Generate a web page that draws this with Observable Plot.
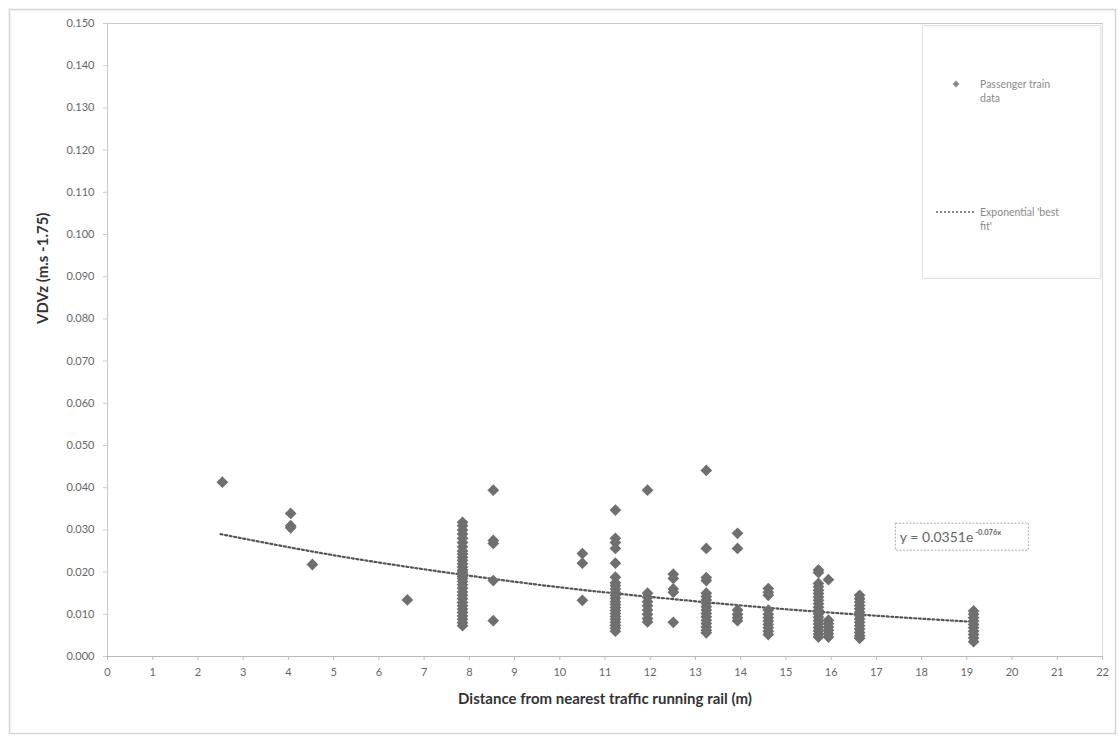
<!DOCTYPE html>
<html>
<head>
<meta charset="utf-8">
<script src="https://cdn.jsdelivr.net/npm/d3@7"></script>
<script src="https://cdn.jsdelivr.net/npm/@observablehq/plot@0.6"></script>
<style>
  html, body { margin: 0; padding: 0; background: #fff; }
  #chart { width: 1119px; height: 738px; }
</style>
</head>
<body>
<div id="chart"></div>
<script>
// ---- Data ----
const distances = [2.54, 4.05, 4.53, 6.63, 7.85, 8.53, 10.5, 11.23, 11.94, 12.51, 13.24, 13.93, 14.61, 15.72, 15.94, 16.63, 19.15];

const vdvAt2_5  = [0.0413];
const vdvAt4_0  = [0.0339, 0.0310, 0.0305];
const vdvAt4_5  = [0.0218];
const vdvAt6_6  = [0.0134];
const vdvAt7_8  = [0.0318, 0.0310, 0.0300, 0.0290, 0.0280, 0.0270, 0.0260, 0.0250, 0.0243, 0.0235, 0.0228, 0.0220, 0.0212, 0.0205, 0.0200, 0.0195, 0.0190, 0.0185, 0.0178, 0.0170, 0.0162, 0.0153, 0.0145, 0.0137, 0.0128, 0.0120, 0.0112, 0.0104, 0.0096, 0.0088, 0.0080, 0.0073];
const vdvAt8_5  = [0.0394, 0.0275, 0.0268, 0.0180, 0.0085];
const vdvAt10_5 = [0.0244, 0.0221, 0.0133];
const vdvAt11_2 = [0.0347, 0.0280, 0.0270, 0.0256, 0.0221, 0.0188, 0.0175, 0.0168, 0.0160, 0.0152, 0.0145, 0.0138, 0.0130, 0.0123, 0.0116, 0.0109, 0.0102, 0.0095, 0.0088, 0.0081, 0.0074, 0.0067, 0.0060];
const vdvAt11_9 = [0.0394, 0.0150, 0.0140, 0.0130, 0.0120, 0.0110, 0.0100, 0.0090, 0.0082];
const vdvAt12_5 = [0.0195, 0.0185, 0.0160, 0.0152, 0.0081];
const vdvAt13_2 = [0.0441, 0.0256, 0.0187, 0.0180, 0.0150, 0.0142, 0.0134, 0.0126, 0.0118, 0.0110, 0.0102, 0.0094, 0.0086, 0.0078, 0.0070, 0.0062, 0.0056];
const vdvAt13_9 = [0.0292, 0.0256, 0.0110, 0.0100, 0.0092, 0.0085];
const vdvAt14_6 = [0.0161, 0.0152, 0.0145, 0.0110, 0.0100, 0.0092, 0.0084, 0.0076, 0.0068, 0.0060, 0.0052];
const vdvAt15_7 = [0.0205, 0.0199, 0.0173, 0.0165, 0.0157, 0.0149, 0.0141, 0.0133, 0.0125, 0.0117, 0.0109, 0.0101, 0.0093, 0.0085, 0.0077, 0.0069, 0.0061, 0.0053, 0.0046];
const vdvAt15_9 = [0.0182, 0.0086, 0.0078, 0.0070, 0.0062, 0.0054, 0.0046];
const vdvAt16_6 = [0.0145, 0.0137, 0.0129, 0.0121, 0.0113, 0.0105, 0.0097, 0.0089, 0.0081, 0.0073, 0.0065, 0.0057, 0.0049, 0.0043];
const vdvAt19_1 = [0.0108, 0.0100, 0.0092, 0.0084, 0.0076, 0.0068, 0.0060, 0.0052, 0.0044, 0.0035];

const vdvByDistance = [vdvAt2_5, vdvAt4_0, vdvAt4_5, vdvAt6_6, vdvAt7_8, vdvAt8_5, vdvAt10_5, vdvAt11_2, vdvAt11_9, vdvAt12_5, vdvAt13_2, vdvAt13_9, vdvAt14_6, vdvAt15_7, vdvAt15_9, vdvAt16_6, vdvAt19_1];

// Exponential 'best fit' line
const trendX = [2.5, 5.0, 7.5, 10.0, 12.5, 15.0, 17.5, 19.15];
const trendY = [0.0290, 0.0240, 0.0199, 0.0164, 0.0136, 0.0112, 0.0093, 0.0082];

const xTicks = d3.range(0, 23, 1);
const yTicks = [0, 0.01, 0.02, 0.03, 0.04, 0.05, 0.06, 0.07, 0.08, 0.09, 0.10, 0.11, 0.12, 0.13, 0.14, 0.15];

const xTitle = "Distance from nearest traffic running rail (m)";
const yTitle = "VDVz (m.s -1.75)";
const legendLabels = [["Passenger train", "data"], ["Exponential 'best", "fit'"]];
const equationMain = "y = 0.0351e";
const equationExp = "-0.076x";

// ---- Build tables ----
const points = [];
distances.forEach((d, i) => vdvByDistance[i].forEach(v => points.push({distance: d, vdv: v})));
const trend = trendX.map((x, i) => ({distance: x, vdv: trendY[i]}));

const markColor = "#6f6f6f";
const font = "Lato, 'Open Sans', sans-serif";

// custom decorations: outer border, legend, equation box
function decorations(index, scales, values, dims) {
  const g = d3.create("svg:g").attr("text-anchor", "start");
  // outer chart border
  g.append("rect").attr("x", 9.5).attr("y", 9.5).attr("width", 1106).attr("height", 724)
    .attr("fill", "none").attr("stroke", "#d4d4d4").attr("stroke-width", 1.5);
  // legend
  const lg = g.append("g");
  lg.append("rect").attr("x", 922.5).attr("y", 25.5).attr("width", 178).attr("height", 253)
    .attr("fill", "#fff").attr("stroke", "#e0e0e0");
  lg.append("path").attr("d", d3.symbol(d3.symbolDiamond2, 30)()).attr("transform", "translate(956,84)")
    .attr("fill", "#8a8a8a");
  lg.append("line").attr("x1", 936).attr("x2", 975).attr("y1", 212).attr("y2", 212)
    .attr("stroke", "#888").attr("stroke-width", 2).attr("stroke-dasharray", "2,2");
  const ly = [84, 212];
  legendLabels.forEach((lines, i) => {
    lines.forEach((t, j) => {
      lg.append("text").attr("x", 980).attr("y", ly[i] + 4 + j * 14).text(t)
        .attr("text-anchor", "start")
        .attr("fill", "#8a8a8a").attr("font-size", "10.5px").attr("font-family", font);
    });
  });
  // equation box
  const ex0 = scales.x(17.42), ey0 = scales.y(0.0316);
  const eq = g.append("g");
  eq.append("rect").attr("x", ex0 + 0.5).attr("y", ey0 + 0.5).attr("width", 133).attr("height", 27)
    .attr("fill", "#fff").attr("stroke", "#aaa").attr("stroke-dasharray", "2,1.5");
  const tx = eq.append("text").attr("x", ex0 + 5).attr("y", ey0 + 19).attr("text-anchor", "start")
    .attr("fill", "#666").attr("font-size", "14px").attr("font-family", font);
  tx.append("tspan").text(equationMain);
  tx.append("tspan").text(equationExp).attr("font-size", "7.5px").attr("dy", -7).attr("dx", 2).attr("font-weight", "bold");
  return g.node();
}

const chart = Plot.plot({
  width: 1119,
  height: 738,
  marginLeft: 107,
  marginRight: 17,
  marginTop: 23,
  marginBottom: 82,
  style: {fontFamily: font, fontSize: "11px", color: "#666", background: "#fff", overflow: "visible"},
  x: {domain: [0, 22]},
  y: {domain: [0, 0.15]},
  marks: [
    decorations,
    Plot.ruleY([0.15], {stroke: "#c8c8c8"}),
    Plot.ruleX([22], {stroke: "#d8d8d8"}),
    Plot.ruleY([0], {stroke: "#b8b8b8"}),
    Plot.ruleX([0], {stroke: "#c8c8c8"}),
    Plot.axisX({ticks: xTicks, tickFormat: d => d, tickSize: 4, tickPadding: 8, stroke: "#bbb", label: null, fill: "#666"}),
    Plot.axisY({ticks: yTicks, tickFormat: d3.format(".3f"), tickSize: 4, tickPadding: 9, stroke: "#ccc", label: null, fill: "#666"}),
    Plot.line(trend, {x: "distance", y: "vdv", curve: "monotone-x", stroke: "#555", strokeWidth: 2.2, strokeDasharray: "2,2.6"}),
    Plot.dot(points, {x: "distance", y: "vdv", symbol: "diamond2", r: 5.3, fill: markColor, stroke: "none"}),
    Plot.text([xTitle], {frameAnchor: "bottom", dy: 47, text: d => d, fontSize: 15, fontWeight: "bold", fill: "#333"}),
    Plot.text([yTitle], {frameAnchor: "left", dx: -64, dy: -16, rotate: -90, text: d => d, fontSize: 15, fontWeight: "bold", fill: "#333"})
  ]
});
document.getElementById("chart").appendChild(chart);
</script>
</body>
</html>
